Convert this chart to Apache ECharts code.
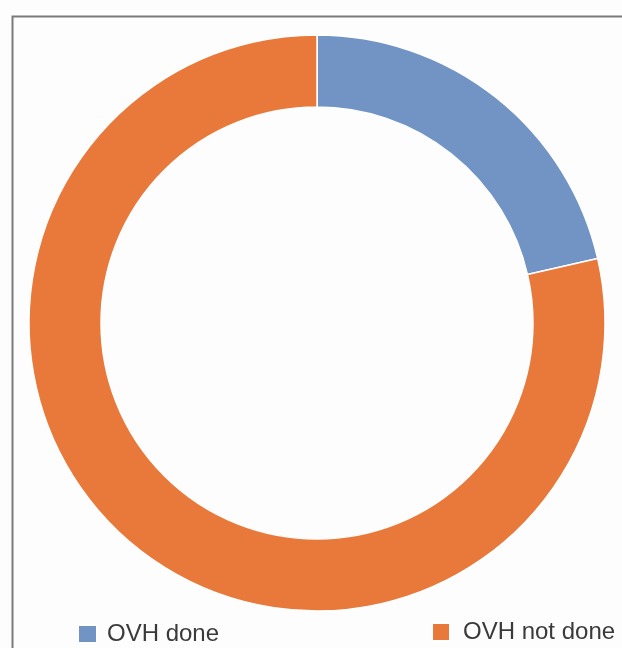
<!DOCTYPE html>
<html>
<head>
<meta charset="utf-8">
<script src="https://cdn.jsdelivr.net/npm/echarts@6/dist/echarts.min.js"></script>
<style>
  html, body { margin: 0; padding: 0; background: #fdfdfd; }
  #chart { width: 622px; height: 648px; }
</style>
</head>
<body>
<div id="chart"></div>
<script>
// Share of cases with and without OVH (percent)
const categories = ['OVH done', 'OVH not done'];
const shares = [21.4, 78.6];
const colors = ['#7194c5', '#e8793a'];

const chart = echarts.init(document.getElementById('chart'));

function legendText(padLeft) {
  return {
    fontFamily: 'Liberation Sans, Arial, sans-serif',
    fontSize: 24,
    color: '#3a3a3a',
    padding: [0, 0, 0, padLeft]
  };
}

chart.setOption({
  backgroundColor: '#fdfdfd',
  animation: false,
  graphic: [{
    type: 'rect',
    left: 10,
    top: 14,
    shape: { width: 700, height: 700 },
    style: { fill: 'none', stroke: '#7a7a7a', lineWidth: 2 },
    silent: true
  }],
  legend: [
    {
      data: [categories[0]],
      left: 77, top: 622,
      padding: 0,
      itemWidth: 19, itemHeight: 18,
      icon: 'rect',
      textStyle: legendText(5)
    },
    {
      data: [categories[1]],
      left: 431, top: 620,
      padding: 0,
      itemWidth: 18, itemHeight: 18,
      icon: 'rect',
      textStyle: legendText(8)
    }
  ],
  series: [{
    type: 'pie',
    center: [317, 323],
    radius: [216, 288],
    startAngle: 90,
    clockwise: true,
    label: { show: false },
    labelLine: { show: false },
    itemStyle: { borderColor: '#ffffff', borderWidth: 1.5 },
    emphasis: { disabled: true },
    data: categories.map((name, i) => ({
      name: name,
      value: shares[i],
      itemStyle: { color: colors[i] }
    }))
  }]
});
</script>
</body>
</html>
